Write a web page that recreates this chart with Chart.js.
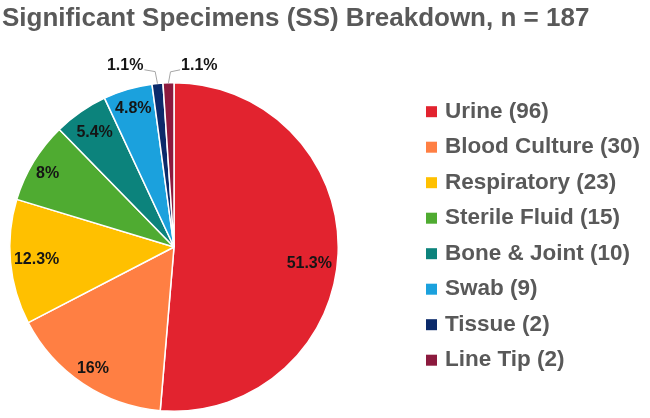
<!DOCTYPE html>
<html><head><meta charset="utf-8">
<script src="https://cdn.jsdelivr.net/npm/chart.js@4.4.0/dist/chart.umd.min.js"></script>
<style>html,body{margin:0;padding:0;background:#fff;overflow:hidden}#wrap{width:650px;height:418px;position:relative}</style>
</head><body><div id="wrap"><canvas id="c"></canvas></div>
<script>
const titleText = 'Significant Specimens (SS) Breakdown, n = 187';
const categories = ['Urine', 'Blood Culture', 'Respiratory', 'Sterile Fluid', 'Bone & Joint', 'Swab', 'Tissue', 'Line Tip'];
const counts = [96, 30, 23, 15, 10, 9, 2, 2];
const percentLabels = ['51.3%', '16%', '12.3%', '8%', '5.4%', '4.8%', '1.1%', '1.1%'];
const colors = ['#E2232F', '#FF7F43', '#FFC000', '#4FAB31', '#0C837C', '#1BA1DD', '#0B2A6A', '#8C1A3E'];

const FONT = '"Liberation Sans", Arial, sans-serif';

// label placement styles (per slice)
const labelPlacement = [
  {inside: true, r: 0.83, a: 0.08},
  {inside: true, r: 0.89},
  {inside: true, r: 0.84},
  {inside: true, r: 0.89, a: -0.02},
  {inside: true, r: 0.85},
  {inside: true, r: 0.88},
  {inside: false, ex: -2.3, ey: -12, dx: -32.3, dy: -17.8},
  {inside: false, ex: 2, ey: -11, dx: 30.8, dy: -17}
];

const titleDraw = {
  id: 'titleDraw',
  afterDraw(chart) {
    const ctx = chart.ctx;
    ctx.save();
    ctx.font = 'bold 26px ' + FONT;
    ctx.fillStyle = '#595959';
    ctx.textAlign = 'left';
    ctx.textBaseline = 'alphabetic';
    ctx.fillText(titleText, 2, 26);
    ctx.restore();
  }
};

const pctLabels = {
  id: 'pctLabels',
  afterDatasetsDraw(chart) {
    const ctx = chart.ctx;
    const meta = chart.getDatasetMeta(0);
    ctx.save();
    ctx.font = 'bold 16px ' + FONT;
    ctx.fillStyle = '#151515';
    ctx.textAlign = 'center';
    ctx.textBaseline = 'middle';
    meta.data.forEach((arc, i) => {
      const p = arc.getProps(['x', 'y', 'startAngle', 'endAngle', 'outerRadius'], true);
      const mid = (p.startAngle + p.endAngle) / 2;
      const txt = percentLabels[i];
      const pl = labelPlacement[i];
      if (pl.inside) {
        const ang = mid + (pl.a || 0);
        const r = p.outerRadius * pl.r;
        ctx.fillText(txt, p.x + Math.cos(ang) * r, p.y + Math.sin(ang) * r);
      } else {
        const ax = p.x + Math.cos(mid) * p.outerRadius;
        const ay = p.y + Math.sin(mid) * p.outerRadius;
        const lx = ax + pl.dx, ly = ay + pl.dy;
        const w = ctx.measureText(txt).width;
        const endX = pl.dx < 0 ? lx + w / 2 + 1 : lx - w / 2 - 1;
        ctx.beginPath();
        ctx.strokeStyle = '#A6A6A6';
        ctx.lineWidth = 1;
        ctx.moveTo(ax, ay);
        ctx.lineTo(ax + pl.ex, ay + pl.ey);
        ctx.lineTo(endX, ly + 4);
        ctx.stroke();
        ctx.fillText(txt, lx, ly);
      }
    });
    ctx.restore();
  }
};

const sideLegend = {
  id: 'sideLegend',
  afterDraw(chart) {
    const ctx = chart.ctx;
    const ds = chart.data.datasets[0];
    ctx.save();
    ctx.font = 'bold 22.5px ' + FONT;
    ctx.textAlign = 'left';
    ctx.textBaseline = 'middle';
    chart.data.labels.forEach((lab, i) => {
      const y = 111.7 + i * 35.5;
      ctx.fillStyle = ds.backgroundColor[i];
      ctx.fillRect(426, y - 5.5, 11, 11);
      ctx.fillStyle = '#595959';
      ctx.fillText(lab + ' (' + ds.data[i] + ')', 445, y);
    });
    ctx.restore();
  }
};

new Chart(document.getElementById('c'), {
  type: 'pie',
  data: {
    labels: categories,
    datasets: [{
      data: counts,
      backgroundColor: colors,
      borderColor: '#ffffff',
      borderWidth: 1.5
    }]
  },
  options: {
    responsive: true,
    maintainAspectRatio: false,
    animation: false,
    devicePixelRatio: 1,
    layout: {padding: {left: 2, right: 304, top: 82, bottom: 6}},
    plugins: {
      legend: {display: false},
      tooltip: {enabled: false},
      title: {display: false}
    }
  },
  plugins: [pctLabels, sideLegend, titleDraw]
});
</script>
</body></html>
